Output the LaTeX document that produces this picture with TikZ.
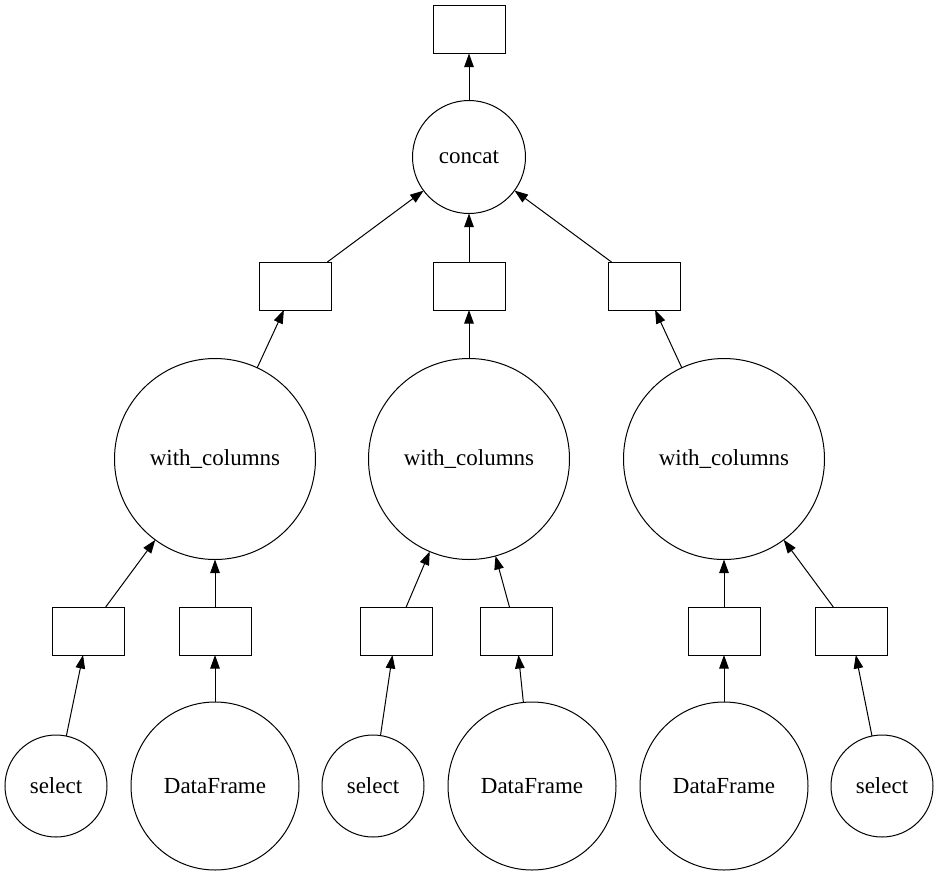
\documentclass[tikz,border=0pt]{standalone}
\usepackage{fontspec}
\setmainfont{Liberation Serif}
\usetikzlibrary{arrows.meta}
\begin{document}
\begin{tikzpicture}[x=1pt,y=-1pt,
  every node/.style={inner sep=0pt,outer sep=0pt,line width=1pt,draw=black,font=\fontsize{23}{27}\selectfont},
  box/.style={rectangle,minimum width=72pt,minimum height=48pt},
  circ/.style={circle,minimum size=#1},
  edge/.style={line width=1pt,-{Triangle[length=13.5pt,width=9.5pt]}}]
\useasboundingbox (0,0) rectangle (940,876);
% nodes
\node[box] (top) at (469,29.5) {};
\node[circ=113pt] (concat) at (469,157) {concat};
\node[box] (r1) at (295,286) {};
\node[box] (r2) at (469,286) {};
\node[box] (r3) at (644,286) {};
\node[circ=201pt] (w1) at (215,459) {with\_columns};
\node[circ=201pt] (w2) at (469,459) {with\_columns};
\node[circ=201pt] (w3) at (724,459) {with\_columns};
\node[box] (a1) at (88,631) {};
\node[box] (a2) at (215,631) {};
\node[box] (a3) at (396,631) {};
\node[box] (a4) at (516,631) {};
\node[box] (a5) at (724,631) {};
\node[box] (a6) at (851,631) {};
\node[circ=102pt] (s1) at (56,786) {select};
\node[circ=168pt] (d1) at (215,786) {DataFrame};
\node[circ=102pt] (s2) at (373,786) {select};
\node[circ=168pt] (d2) at (532,786) {DataFrame};
\node[circ=168pt] (d3) at (724,786) {DataFrame};
\node[circ=102pt] (s3) at (882,786) {select};
% edges
\draw[edge] (s1) -- (a1);
\draw[edge] (d1) -- (a2);
\draw[edge] (s2) -- (a3);
\draw[edge] (d2) -- (a4);
\draw[edge] (d3) -- (a5);
\draw[edge] (s3) -- (a6);
\draw[edge] (a1) -- (w1);
\draw[edge] (a2) -- (w1);
\draw[edge] (a3) -- (w2);
\draw[edge] (a4) -- (w2);
\draw[edge] (a5) -- (w3);
\draw[edge] (a6) -- (w3);
\draw[edge] (w1) -- (r1);
\draw[edge] (w2) -- (r2);
\draw[edge] (w3) -- (r3);
\draw[edge] (r1) -- (concat);
\draw[edge] (r2) -- (concat);
\draw[edge] (r3) -- (concat);
\draw[edge] (concat) -- (top);
\end{tikzpicture}
\end{document}
